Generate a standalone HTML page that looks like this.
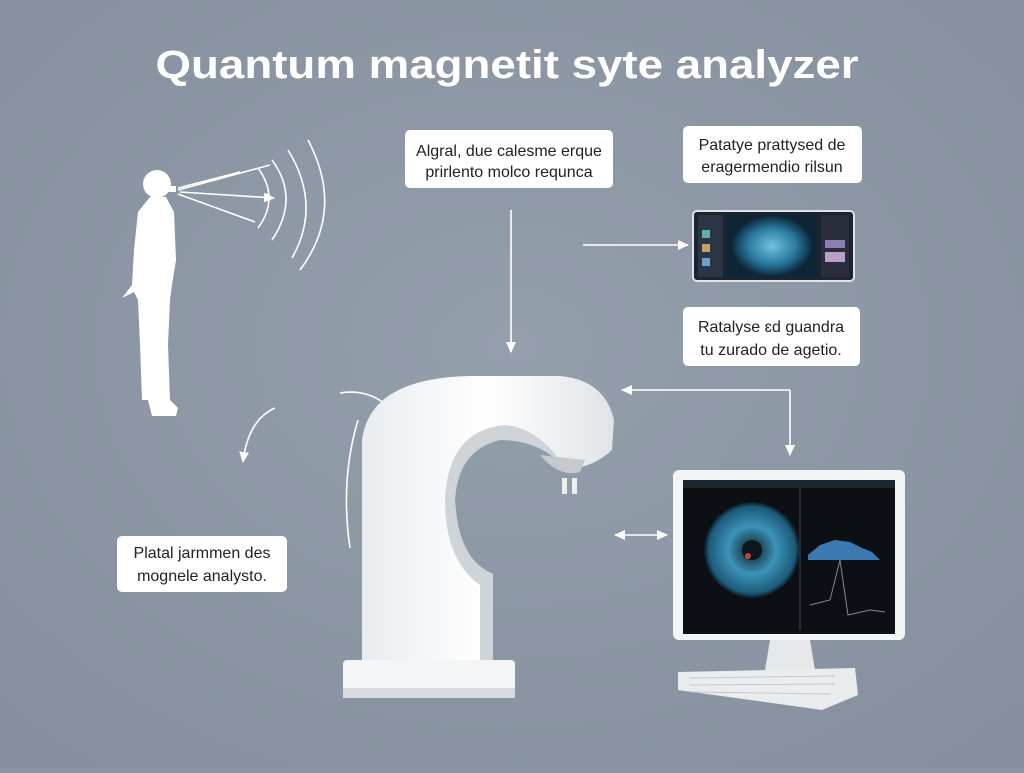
<!DOCTYPE html>
<html><head><meta charset="utf-8"><style>
html,body{margin:0;padding:0;}
body{width:1024px;height:768px;background:#8a95a3;overflow:hidden;font-family:"Liberation Sans",sans-serif;}
</style></head><body>
<svg width="1024" height="768" viewBox="0 0 1024 768" xmlns="http://www.w3.org/2000/svg">
<defs>
<radialGradient id="bg" cx="50%" cy="45%" r="70%"><stop offset="0" stop-color="#949fac"/><stop offset="1" stop-color="#858f9d"/></radialGradient>
<radialGradient id="brain" cx="50%" cy="50%" r="50%"><stop offset="0" stop-color="#6fc3e0"/><stop offset="0.6" stop-color="#2a7aa0"/><stop offset="1" stop-color="#0d2a3d"/></radialGradient>
<radialGradient id="wheel" cx="50%" cy="50%" r="50%"><stop offset="0" stop-color="#0b1a24"/><stop offset="0.5" stop-color="#3c93b8"/><stop offset="0.9" stop-color="#1d5a7a"/><stop offset="1" stop-color="#0a1820"/></radialGradient>
<linearGradient id="mach" x1="0" x2="1"><stop offset="0" stop-color="#e9ecef"/><stop offset="0.5" stop-color="#ffffff"/><stop offset="1" stop-color="#dfe3e7"/></linearGradient>
<marker id="ah" markerUnits="userSpaceOnUse" markerWidth="12" markerHeight="12" refX="10" refY="6" orient="auto"><path d="M0,1 L11,6 L0,11 z" fill="#fff"/></marker>
</defs>
<rect width="1024" height="768" fill="url(#bg)"/>
<text x="507" y="78" text-anchor="middle" font-size="40" font-weight="bold" fill="#fff" textLength="703" lengthAdjust="spacingAndGlyphs">Quantum magnetit syte analyzer</text>

<!-- human -->
<g fill="#fff">
<circle cx="157" cy="184" r="14"/>
<rect x="168" y="186" width="8" height="6"/>
<path d="M150,197 L166,197 L174,212 L176,260 L172,285 L170,300 L168,345 L170,400 L178,408 L176,416 L152,416 L148,400 L142,400 L140,345 L138,300 L134,292 L122,298 L132,285 L134,250 L138,212 Z"/>
</g>
<g fill="none" stroke="#fff" stroke-width="1.6">
<path d="M178,190 L270,165 M178,194 L255,222 M178,188 L240,172"/>
<line x1="180" y1="192" x2="274" y2="198" marker-end="url(#ah)"/>
<path d="M258,168 Q280,198 258,228"/>
<path d="M272,160 Q300,198 272,240"/>
<path d="M288,150 Q322,205 292,258"/>
<path d="M308,140 Q345,210 300,270"/>
</g>

<!-- label boxes -->
<g font-size="16" fill="#222">
<rect x="405" y="130" width="208" height="58" rx="5" fill="#fff"/>
<text x="509" y="156" text-anchor="middle">Algral, due calesme erque</text>
<text x="509" y="177" text-anchor="middle">prirlento molco requnca</text>
<rect x="683" y="126" width="179" height="57" rx="5" fill="#fff"/>
<text x="772" y="150" text-anchor="middle">Patatye prattysed de</text>
<text x="772" y="172" text-anchor="middle">eragermendio rilsun</text>
<rect x="683" y="307" width="177" height="59" rx="5" fill="#fff"/>
<text x="771" y="332" text-anchor="middle">Ratalyse ɛd guandra</text>
<text x="771" y="355" text-anchor="middle">tu zurado de agetio.</text>
<rect x="117" y="536" width="170" height="56" rx="5" fill="#fff"/>
<text x="202" y="558" text-anchor="middle">Platal jarmmen des</text>
<text x="202" y="581" text-anchor="middle">mognele analysto.</text>
</g>

<!-- tablet -->
<rect x="693" y="211" width="161" height="70" rx="4" fill="#1b2430" stroke="#dfe3e8" stroke-width="2"/>
<rect x="698" y="215" width="25" height="62" fill="#2b3644"/>
<rect x="702" y="230" width="8" height="8" fill="#5fb0a0"/><rect x="702" y="244" width="8" height="8" fill="#c8a060"/><rect x="702" y="258" width="8" height="8" fill="#6aa0d0"/>
<rect x="727" y="215" width="90" height="62" fill="#0e2535"/>
<ellipse cx="772" cy="246" rx="40" ry="30" fill="url(#brain)"/>
<rect x="821" y="215" width="28" height="62" fill="#2a2e3c"/>
<rect x="825" y="240" width="20" height="8" fill="#8a7fb0"/><rect x="825" y="252" width="20" height="10" fill="#b8a0c8"/>

<!-- arrows -->
<g stroke="#fff" stroke-width="1.6" fill="none">
<line x1="583" y1="245" x2="688" y2="245" marker-end="url(#ah)"/>
<line x1="511" y1="210" x2="511" y2="352" marker-end="url(#ah)"/>
<polyline points="790,390 790,455" marker-end="url(#ah)"/>
<line x1="790" y1="390" x2="622" y2="390" marker-end="url(#ah)"/>
<line x1="640" y1="535" x2="615" y2="535" marker-end="url(#ah)"/>
<line x1="640" y1="535" x2="667" y2="535" marker-end="url(#ah)"/>
<path d="M275,408 Q248,420 243,462" marker-end="url(#ah)"/>
<path d="M340,393 Q370,388 392,410" marker-end="url(#ah)"/>
<path d="M358,420 Q340,480 350,548"/>
</g>

<!-- machine -->
<rect x="343" y="660" width="172" height="38" rx="4" fill="#f4f5f6"/>
<rect x="343" y="688" width="172" height="10" fill="#d7dbdf"/>
<path d="M362,660 L362,440 Q370,378 470,376 L560,376 Q605,380 614,420 L612,450 Q590,470 565,468 Q540,430 500,432 Q455,440 455,500 Q458,560 493,574 L493,660 Z" fill="url(#mach)"/>
<path d="M455,500 Q458,560 493,574 L493,660 L480,660 L480,585 Q445,560 445,500 Q448,430 505,425 Q540,428 565,468 Q540,440 500,440 Q458,450 455,500 Z" fill="#cfd4d9"/>
<path d="M540,455 Q560,478 580,472 L585,460 Z" fill="#c5cacf"/>
<rect x="562" y="478" width="5" height="16" fill="#eee"/><rect x="572" y="478" width="5" height="16" fill="#eee"/>

<!-- monitor -->
<rect x="673" y="470" width="232" height="170" rx="6" fill="#f3f4f5"/>
<rect x="683" y="480" width="212" height="154" fill="#0c1014"/>
<circle cx="752" cy="550" r="48" fill="url(#wheel)"/>
<circle cx="752" cy="550" r="10" fill="#0b151d"/>
<circle cx="748" cy="556" r="3" fill="#d04030"/>
<line x1="800" y1="488" x2="800" y2="630" stroke="#3a4550"/>
<path d="M808,555 L820,545 L835,540 L850,542 L862,548 L872,552 L880,560 L808,560 Z" fill="#3a7ab0"/>
<path d="M810,605 L830,600 L840,560 L848,615 L870,610 L885,612" stroke="#7a8a90" fill="none"/>
<rect x="683" y="480" width="212" height="8" fill="#1c252e"/>
<path d="M770,640 L810,640 L815,670 L765,670 Z" fill="#e6e8ea"/>
<path d="M678,672 L855,668 L858,695 L822,710 L678,690 Z" fill="#e9ebed"/>
<g stroke="#c3c7cb" stroke-width="1"><line x1="690" y1="678" x2="835" y2="676"/><line x1="690" y1="685" x2="835" y2="684"/><line x1="692" y1="692" x2="830" y2="694"/></g>
</svg>
</body></html>
